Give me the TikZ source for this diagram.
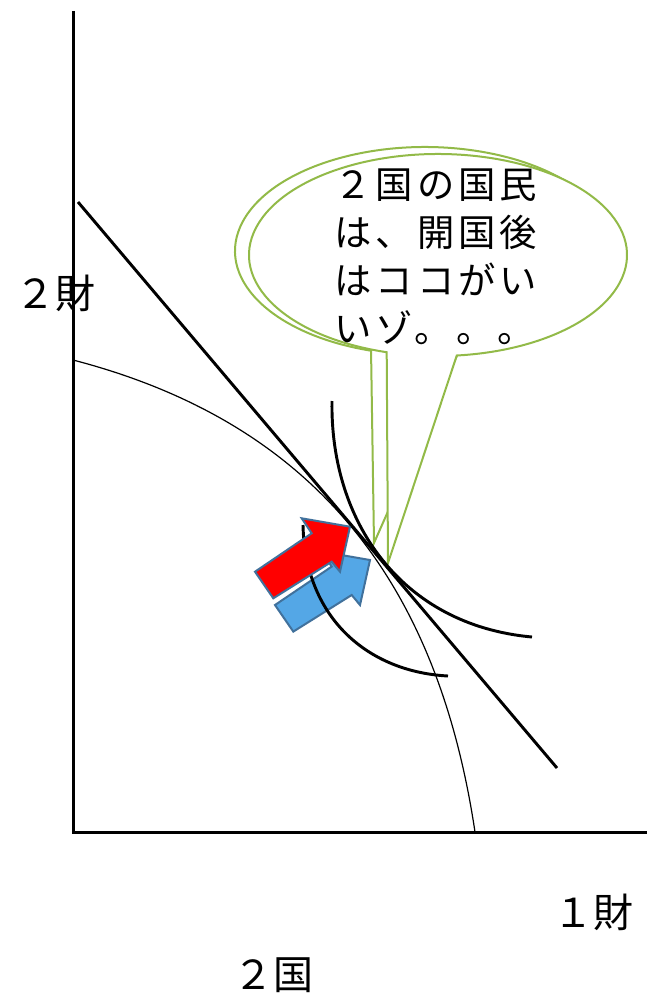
\documentclass[tikz,border=0pt]{standalone}
\usepackage{fontspec}
\newfontfamily\jp{Noto Sans CJK JP}
\newfontfamily\jpls{Noto Sans CJK JP}[LetterSpace=11]
\usetikzlibrary{calc}
\definecolor{cgreen}{RGB}{146,186,72}
\definecolor{aedge}{RGB}{65,113,156}
\definecolor{ablue}{RGB}{84,167,230}
\begin{document}
\begin{tikzpicture}[x=0.75pt,y=-0.75pt,
  axis/.style={line width=2.25pt},
  curve/.style={line width=2.2pt},
  ppf/.style={line width=0.9pt},
  callout/.style={draw=cgreen, line width=1.5pt, fill=white},
  arrowshape/.style={draw=aedge, line width=1.5pt, line join=miter},
  lbl/.style={font={\jp\fontsize{30pt}{36pt}\selectfont}, inner sep=0pt, anchor=base west},
  ctext/.style={font={\jpls\fontsize{28pt}{32pt}\selectfont}, inner sep=0pt, anchor=base west}]
\useasboundingbox (0,0) rectangle (647,995);

% callouts
\coordinate (ca) at (425,251);
\coordinate (tipA) at (374,543);
\filldraw[callout] (ca) ++(106.5:190 and 104) arc[start angle=106.5, end angle=440, x radius=190, y radius=104] -- (tipA) -- cycle;
\coordinate (cb) at (438,255);
\coordinate (tipB) at (388,563);
\filldraw[callout] (cb) ++(105.75:189 and 101) arc[start angle=105.75, end angle=444.3, x radius=189, y radius=101] -- (tipB) -- cycle;

\node[ctext] (t1) at (334,198) {２国の国民};
\node[ctext] (t2) at (334,246) {は、開国後};
\node[ctext] (t3) at (334,294) {はココがい};
\node[ctext] (t4) at (334,342) {いゾ。。。};

% production possibility frontier
\coordinate (ppfa) at (73,360);
\coordinate (ppfb) at (475,832);
\draw[ppf] (ppfa) .. controls (323,425) and (439,592) .. (ppfb);

% arrows
\filldraw[arrowshape, fill=ablue, shift={(20,33.3)}] (255,571.7) -- (311.7,533.3) -- (301.7,518.3) -- (350,526.7) -- (340,571.7) -- (331.7,561.7) -- (273.3,598.3) -- cycle;
\coordinate (da) at (303,525);
\coordinate (db) at (448,676);
\draw[curve] (da) .. controls (305,620) and (370,672) .. (db);
\filldraw[arrowshape, fill=red] (255,571.7) -- (311.7,533.3) -- (301.7,518.3) -- (350,526.7) -- (340,571.7) -- (331.7,561.7) -- (273.3,598.3) -- cycle;

% price line and upper indifference curve
\coordinate (la) at (78,202);
\coordinate (lb) at (557,768);
\draw[curve] (la) -- (lb);
\coordinate (ua) at (332,401);
\coordinate (ub) at (532,637);
\draw[curve] (ua) .. controls (330,520) and (400,625) .. (ub);

% labels
\node[lbl] (l2g) at (15,308) {２財};
\node[lbl] (l1g) at (553,927) {１財};
\node[lbl] (l2k) at (233,989) {２国};

% axes
\coordinate (ytop) at (73,11);
\coordinate (O) at (73,832);
\coordinate (xend) at (647,832);
\draw[axis] (ytop) -- (O) -- (xend);
\end{tikzpicture}
\end{document}
